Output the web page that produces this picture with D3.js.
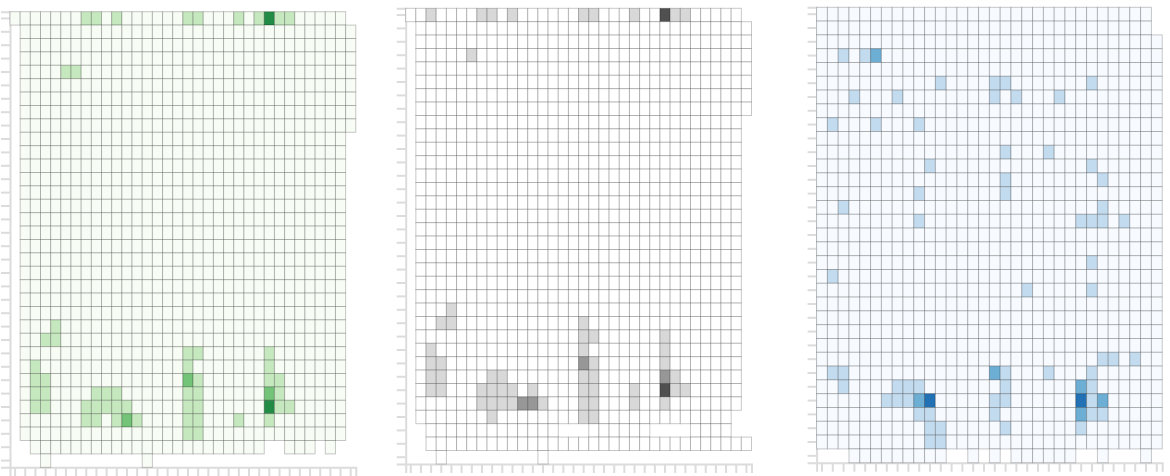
<!DOCTYPE html>
<html><head><meta charset="utf-8">
<script src="https://cdn.jsdelivr.net/npm/d3@7"></script>
<style>html,body{margin:0;padding:0;background:#fff;overflow:hidden}</style>
</head><body>
<svg id="chart" width="1170" height="476"></svg>
<script>
// '.' = no cell, digit = count value (0..3). Spaces only group columns by 10.
const greenRows = [
  "0000000110 1000000110 0010131100 000.",
  ".000000000 0000000000 0000000000 0000",
  ".000000000 0000000000 0000000000 0000",
  ".000000000 0000000000 0000000000 0000",
  ".000011000 0000000000 0000000000 0000",
  ".000000000 0000000000 0000000000 0000",
  ".000000000 0000000000 0000000000 0000",
  ".000000000 0000000000 0000000000 0000",
  ".000000000 0000000000 0000000000 0000",
  ".000000000 0000000000 0000000000 000.",
  ".000000000 0000000000 0000000000 000.",
  ".000000000 0000000000 0000000000 000.",
  ".000000000 0000000000 0000000000 000.",
  ".000000000 0000000000 0000000000 000.",
  ".000000000 0000000000 0000000000 000.",
  ".000000000 0000000000 0000000000 000.",
  ".000000000 0000000000 0000000000 000.",
  ".000000000 0000000000 0000000000 000.",
  ".000000000 0000000000 0000000000 000.",
  ".000000000 0000000000 0000000000 000.",
  ".000000000 0000000000 0000000000 000.",
  ".000000000 0000000000 0000000000 000.",
  ".000000000 0000000000 0000000000 000.",
  ".000100000 0000000000 0000000000 000.",
  ".001100000 0000000000 0000000000 000.",
  ".000000000 0000000110 0000010000 000.",
  ".010000000 0000000100 0000010000 000.",
  ".011000000 0000000210 0000011000 000.",
  ".011000011 1000000110 0000021000 000.",
  ".011000111 1100000110 0000031100 000.",
  ".000000110 1210000110 0010010000 000.",
  ".000000000 0000000110 0000000000 000.",
  "..00000000 0000000000 00000..000 .0..",
  "...0...... ...0...... .......... ...."
];

const greyRows = [
  "0010000110 1000000110 0010031100 000.",
  ".000000000 0000000000 0000000000 0000",
  ".000000000 0000000000 0000000000 0000",
  ".000001000 0000000000 0000000000 0000",
  ".000000000 0000000000 0000000000 0000",
  ".000000000 0000000000 0000000000 0000",
  ".000000000 0000000000 0000000000 0000",
  ".000000000 0000000000 0000000000 0000",
  ".000000000 0000000000 0000000000 000.",
  ".000000000 0000000000 0000000000 000.",
  ".000000000 0000000000 0000000000 000.",
  ".000000000 0000000000 0000000000 000.",
  ".000000000 0000000000 0000000000 000.",
  ".000000000 0000000000 0000000000 000.",
  ".000000000 0000000000 0000000000 000.",
  ".000000000 0000000000 0000000000 000.",
  ".000000000 0000000000 0000000000 000.",
  ".000000000 0000000000 0000000000 000.",
  ".000000000 0000000000 0000000000 000.",
  ".000000000 0000000000 0000000000 000.",
  ".000000000 0000000000 0000000000 000.",
  ".000000000 0000000000 0000000000 000.",
  ".000100000 0000000000 0000000000 000.",
  ".001100000 0000000100 0000000000 000.",
  ".000000000 0000000110 0000010000 000.",
  ".010000000 0000000100 0000010000 000.",
  ".011000000 0000000210 0000010000 000.",
  ".011000011 0000000110 0000021000 000.",
  ".011000111 1010000110 0010031100 000.",
  ".000000111 1221000110 0010010000 000.",
  ".000000010 0000000110 0000000000 00..",
  "..00000000 00000...00 0000....00 00..",
  "..00000000 0000000000 0000000000 0000",
  "...0...... ...0...... .......... ...."
];

const blueRows = [
  "0000000000 0000000000 0000000000 0.",
  "0000000000 0000000000 0000000000 0.",
  "0000000000 0000000000 0000000000 00",
  "0010120000 0000000000 0000000000 00",
  "0000000000 0000000000 0000000000 00",
  "0000000000 0100001100 0000010000 00",
  "0001000100 0000001010 0010000000 00",
  "0000000000 0000000000 0000000000 00",
  "0100010001 0000000000 0000000000 00",
  "0000000000 0000000000 0000000000 00",
  "0000000000 0000000100 0100000000 00",
  "0000000000 1000000000 0000010000 00",
  "0000000000 0000000100 0000001000 00",
  "0000000001 0000000100 0000000000 00",
  "0010000000 0000000000 0000001000 00",
  "0000000001 0000000000 0000111010 00",
  "0000000000 0000000000 0000000000 00",
  "0000000000 0000000000 0000000000 00",
  "0000000000 0000000000 0000010000 00",
  "0100000000 0000000000 0000000000 00",
  "0000000000 0000000001 0000010000 00",
  "0000000000 0000000000 0000000000 00",
  "0000000000 0000000000 0000000000 00",
  "0000000000 0000000000 0000000000 00",
  "0000000000 0000000000 0000000000 00",
  "0000000000 0000000000 0000001101 00",
  "0110000000 0000002100 0100010000 00",
  "0010000111 0000000100 0000210000 00",
  "0000001112 3000001100 0000312000 00",
  "0000000001 1000001000 0000211000 00",
  "0000000000 1100000100 0000100000 00",
  "0000000000 1100000000 0000000000 00",
  "...0000000 00..0.0.00 0000..0... 0."
];

const colorDomain = [0, 4];

function parseRows(rows) {
  const cells = [];
  const clean = rows.map(s => s.replace(/ /g, ""));
  clean.forEach((s, r) => {
    s.split("").forEach((ch, c) => {
      if (ch !== ".") cells.push({ row: r, col: c, value: +ch });
    });
  });
  return { cells, nRows: clean.length, nCols: clean[0].length };
}

const panels = [
  { rows: greenRows, interp: d3.interpolateGreens, left: 10,    top: 11.7, w: 345.8, h: 455.6 },
  { rows: greyRows,  interp: d3.interpolateGreys,  left: 405.7, top: 8.3,  w: 345.8, h: 455.6 },
  { rows: blueRows,  interp: d3.interpolateBlues,  left: 816.6, top: 7.3,  w: 345.6, h: 455.4 }
];

const svg = d3.select("#chart");

panels.forEach(p => {
  const data = parseRows(p.rows);
  const g = svg.append("g").attr("transform", `translate(${p.left},${p.top})`);
  const x = d3.scaleBand().domain(d3.range(data.nCols)).range([0, p.w]);
  const y = d3.scaleBand().domain(d3.range(data.nRows)).range([0, p.h]);
  const color = d3.scaleSequential(p.interp).domain(colorDomain);

  const gx = g.append("g").attr("transform", `translate(0,${p.h})`)
    .call(d3.axisBottom(x).tickSize(9).tickSizeOuter(9));
  const gy = g.append("g")
    .call(d3.axisLeft(y).tickSize(9).tickSizeOuter(9));
  [gx, gy].forEach(a => {
    a.selectAll("text").remove();
    a.selectAll("path, line").attr("stroke", "#dcdcdc").attr("stroke-width", 2);
  });

  g.append("g").selectAll("rect").data(data.cells).join("rect")
    .attr("x", d => x(d.col))
    .attr("y", d => y(d.row))
    .attr("width", x.bandwidth())
    .attr("height", y.bandwidth())
    .attr("fill", d => color(d.value))
    .attr("stroke", "rgba(0,0,0,0.22)")
    .attr("stroke-width", 1);
});
</script>
</body></html>
